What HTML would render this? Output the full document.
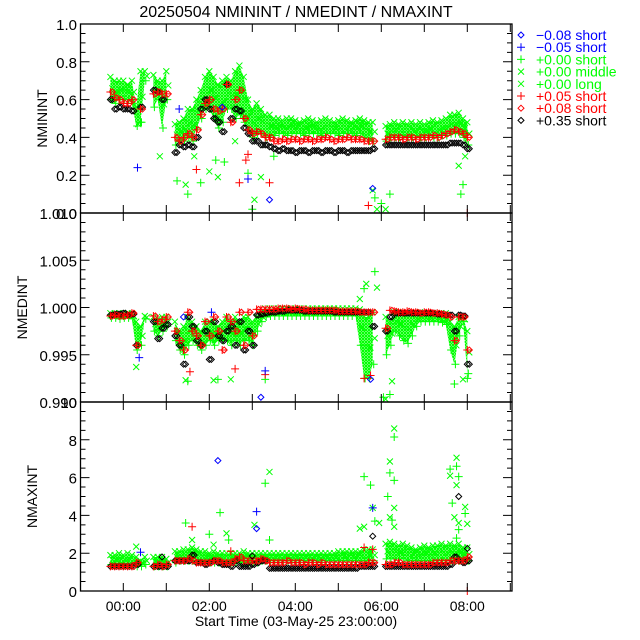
<!DOCTYPE html>
<html><head><meta charset="utf-8"><style>
html,body{margin:0;padding:0;background:#fff;}
svg{display:block;font-family:"Liberation Sans",sans-serif;}
</style></head><body>
<svg id="chart" width="640" height="640" viewBox="0 0 640 640" xmlns="http://www.w3.org/2000/svg">
<defs>
<pattern id="gx" width="3" height="3" patternUnits="userSpaceOnUse">
<path d="M0,0L3,3M3,0L0,3" stroke="#00ff00" stroke-width="1.2"/>
</pattern>
</defs>
<text x="296" y="17" font-size="16" text-anchor="middle">20250504 NMININT / NMEDINT / NMAXINT</text>
<text x="296" y="626" font-size="14" text-anchor="middle">Start Time (03-May-25 23:00:00)</text>
<g id="plots"></g>
<g id="legend"></g>
</svg>
<script>
// ---- data ----
const times = [-0.3,-0.2,-0.1,0,0.1,0.2,0.3,0.4,0.5,0.6,0.7,0.8,0.9,1.0,1.1,1.2,1.3,1.4,1.5,1.6,1.7,1.8,1.9,2.0,2.1,2.2,2.3,2.4,2.5,2.6,2.7,2.8,2.9,3.0,3.1,3.2,3.3,3.4,3.5,3.6,3.7,3.8,3.9,4.0,4.1,4.2,4.3,4.4,4.5,4.6,4.7,4.8,4.9,5.0,5.1,5.2,5.3,5.4,5.5,5.6,5.7,5.8,5.9,6.0,6.1,6.2,6.3,6.4,6.5,6.6,6.7,6.8,6.9,7.0,7.1,7.2,7.3,7.4,7.5,7.6,7.7,7.8,7.9,8.0];
const xTickHours = [-1,0,1,2,3,4,5,6,7,8,9];
const xTickLabels = ["00:00","02:00","04:00","06:00","08:00"];
const xTickLabelHours = [0,2,4,6,8];

// NMININT
const minGHi = [.72,.70,.70,.70,.68,.70,.56,.75,.75,null,.73,.70,.70,.75,null,.47,.48,.50,.55,.55,.60,.65,.72,.75,.72,.68,.70,.72,.70,.75,.78,.72,.60,.55,.58,.55,.52,.52,.50,.50,.49,.50,.50,.49,.48,.49,.50,.49,.48,.49,.50,.49,.48,.49,.50,.49,.48,.49,.50,.49,.48,.48,null,null,.46,.47,.48,.47,.48,.47,.48,.47,.48,.47,.48,.49,.48,.49,.50,.52,.52,.53,.50,.48];
const minGLo = [.60,.58,.60,.60,.60,.58,.46,.48,.70,null,.56,.60,.45,.60,null,.36,.38,.38,.40,.38,.45,.50,.55,.55,.50,.45,.48,.55,.55,.50,.52,.48,.44,.40,.42,.42,.40,.40,.41,.42,.42,.41,.42,.42,.42,.41,.42,.42,.42,.41,.42,.42,.42,.41,.42,.42,.42,.41,.42,.40,.38,.38,null,null,.38,.40,.40,.40,.41,.40,.40,.41,.40,.40,.41,.40,.40,.41,.41,.42,.42,.42,.40,.36];
const minRed = [.64,.61,.60,.58,.58,.60,null,.55,null,null,.63,.64,.63,.63,null,.40,.38,.40,.42,.40,.44,.52,.58,.60,.55,.54,.55,.68,.48,.60,.65,.50,.44,.42,.43,.42,.40,.40,.38,.38,.39,.38,.39,.39,.38,.39,.39,.38,.39,.39,.40,.39,.38,.39,.39,.40,.39,.39,.39,.38,.38,.38,null,null,.39,.40,.40,.40,.39,.40,.40,.39,.40,.40,.40,.41,.40,.41,.42,.43,.44,.43,.42,.40];
const minBlack = [.60,.55,.56,.55,.55,.54,null,.56,null,null,.65,.64,.60,null,null,.32,.36,.35,.36,.35,.40,.55,.60,.55,.50,.48,.43,.68,.50,.55,.54,.45,.42,.38,.38,.36,.36,.35,.34,.33,.34,.33,.33,.32,.33,.33,.32,.33,.33,.32,.33,.33,.32,.33,.33,.32,.33,.33,.33,.33,.33,.34,null,null,.36,.36,.36,.36,.36,.36,.36,.36,.36,.36,.36,.36,.36,.36,.36,.37,.37,.37,.36,.34];
const minGOutT = [0.35,0.4,0.85,1.25,1.45,1.5,1.65,1.8,2.0,2.15,2.2,2.35,2.6,2.9,3.05,3.0,3.2,3.5,5.8,5.85,5.9,6.0,6.1,6.2,7.8,7.9,7.95,7.85];
const minGOutV = [.47,.48,.30,.17,.15,.10,.30,.16,.22,.28,.19,.27,.38,.21,.07,.02,.19,.30,.12,.08,.02,.05,.02,.10,.25,.15,.30,.10];
const minROutT = [1.7,2.7,2.85,2.9,3.4,5.7,8.0];
const minROutV = [.23,.16,.28,.31,.16,.04,0.0];
const minBOutT = [0.33,3.4,2.9,5.8,1.3,2.3];
const minBOutV = [.24,.07,.18,.13,.55,.56];

// NMEDINT
const medGHi = [.9994,.9994,.9994,.9994,.9994,.9994,.9985,.9980,.9991,null,.9990,.9988,.9990,.9990,null,.9985,.9975,.9980,.9990,.9985,.9980,.9975,.9985,.9985,.9985,.9980,.9985,.9990,.9985,.9990,.9985,.9990,.9990,.9985,.9990,.9995,.9999,.9999,.9999,.9999,.9999,.9999,.9999,.9999,.9999,.9999,.9999,.9999,.9999,.9999,.9999,.9999,.9999,.9999,.9999,.9999,.9999,.9999,.9998,.9990,.9990,.9995,null,null,.9990,.9985,.9995,.9995,.9993,.9993,.9993,.9995,.9995,.9994,.9994,.9994,.9994,.9994,.9994,.9985,.9980,.9990,.9990,.9975];
const medGLo = [.9989,.9989,.9988,.9989,.9989,.9988,.9955,.9960,.9988,null,.9975,.9970,.9975,.9980,null,.9965,.9955,.9950,.9960,.9965,.9960,.9955,.9960,.9965,.9960,.9965,.9965,.9965,.9960,.9965,.9960,.9965,.9965,.9960,.9975,.9985,.9990,.9991,.9991,.9991,.9991,.9991,.9991,.9991,.9991,.9991,.9991,.9991,.9991,.9991,.9991,.9991,.9991,.9991,.9991,.9991,.9991,.9991,.9960,.9925,.9925,.9940,null,null,.9950,.9960,.9975,.9970,.9965,.9962,.9970,.9980,.9985,.9985,.9985,.9985,.9985,.9984,.9982,.9955,.9940,.9970,.9985,.9930];
const medRed = [.9991,.9992,.9991,.9991,.9992,.9994,.9960,null,null,null,.9991,.9985,.9987,.9990,null,.9975,.9965,.9955,.9995,.9975,.9970,.9960,.9985,.9970,.9990,.9975,.9955,.9990,.9985,.9975,.9995,.9960,.9995,.9970,.9998,.9998,.9998,.9998,.9998,.9999,.9999,.9999,.9998,.9999,.9998,.9998,.9997,.9997,.9997,.9997,.9997,.9997,.9997,.9996,.9996,.9996,.9996,.9996,.9995,.9995,.9995,.9995,null,null,.9978,.9997,.9996,.9995,.9995,.9996,.9995,.9995,.9994,.9995,.9995,.9994,.9994,.9993,.9992,.9990,.9965,.9990,.9990,.9955];
const medBlack = [.9992,.9993,.9993,.9994,.9992,.9993,.9960,null,null,null,.9985,.9967,.9978,.9982,null,.9970,.9960,.9940,.9990,.9980,.9965,.9960,.9975,.9945,.9985,.9970,.9965,.9975,.9980,.9960,.9985,.9955,.9975,.9960,.9992,.9993,.9994,.9995,.9995,.9996,.9996,.9997,.9997,.9997,.9997,.9996,.9996,.9996,.9996,.9996,.9996,.9996,.9995,.9995,.9995,.9995,.9995,.9995,.9995,.9995,.9995,.9980,null,null,.9975,.9990,.9994,.9994,.9994,.9994,.9994,.9994,.9994,.9994,.9994,.9994,.9993,.9993,.9992,.9992,.9975,.9992,.9991,.9940];
const medGOutT = [0.3,0.35,1.45,1.5,2.1,2.2,2.5,3.3,5.5,5.6,5.65,5.85,5.9,6.05,6.1,6.2,6.25,7.7,7.9,8.0];
const medGOutV = [.9937,.9960,.9923,.9922,.9923,.9924,.9924,.9924,1.0009,1.0020,1.0025,1.0038,1.0021,.9905,.9903,.9908,.9922,.9919,.9924,.9925];
const medROutT = [2.6,1.55,3.3,5.6,5.75];
const medROutV = [.9935,.9932,.9929,.9925,.9928];
const medBOutT = [0.37,3.2,3.3,1.4,2.05,5.75];
const medBOutV = [.9947,.9905,.9933,.9990,.9995,.9924];

// NMAXINT
const maxGHi = [1.9,1.9,2.0,1.9,2.0,1.9,1.8,1.6,1.8,null,1.8,1.8,1.8,1.7,null,2.1,2.1,2.2,2.2,2.3,2.2,2.1,2.1,2.0,2.1,2.0,2.0,2.0,2.0,2.0,2.0,2.1,2.0,2.0,2.0,2.0,2.0,2.0,2.0,2.0,2.0,2.0,2.0,2.0,2.0,2.0,2.0,2.0,2.0,2.0,2.0,2.0,2.0,2.1,2.1,2.1,2.1,2.1,2.1,2.2,2.2,2.2,null,null,2.5,2.6,2.5,2.4,2.5,2.4,2.3,2.2,2.3,2.4,2.3,2.4,2.4,2.5,2.4,2.5,2.4,2.5,2.3,2.3];
const maxGLo = [1.4,1.4,1.4,1.4,1.4,1.4,1.3,1.3,1.4,null,1.3,1.3,1.3,1.3,null,1.5,1.6,1.6,1.6,1.6,1.6,1.6,1.5,1.5,1.5,1.5,1.5,1.5,1.5,1.5,1.5,1.5,1.5,1.5,1.5,1.6,1.6,1.6,1.6,1.6,1.6,1.6,1.6,1.6,1.6,1.6,1.6,1.6,1.6,1.6,1.6,1.6,1.6,1.6,1.6,1.6,1.6,1.6,1.6,1.6,1.6,1.6,null,null,1.7,1.7,1.7,1.7,1.7,1.6,1.6,1.6,1.6,1.6,1.6,1.6,1.6,1.6,1.6,1.6,1.6,1.6,1.6,1.6];
const maxRed = [1.3,1.3,1.3,1.3,1.3,1.3,1.5,null,null,null,1.3,1.4,1.3,1.4,null,1.6,1.6,1.6,1.7,1.6,1.5,1.5,1.5,1.5,1.6,1.6,1.5,1.5,1.5,1.7,1.8,1.6,1.6,1.6,1.6,1.7,1.6,1.5,1.5,1.5,1.5,1.6,1.5,1.5,1.5,1.4,1.5,1.5,1.4,1.5,1.4,1.4,1.4,1.4,1.4,1.4,1.4,1.4,1.4,1.4,1.5,1.5,null,null,1.4,1.4,1.5,1.5,1.4,1.4,1.4,1.4,1.4,1.4,1.4,1.5,1.5,1.5,1.5,1.6,1.6,1.6,1.6,1.8];
const maxBlack = [1.3,1.3,1.3,1.3,1.3,1.3,1.4,null,null,null,1.3,1.3,1.3,1.3,null,1.6,1.6,1.6,1.6,1.9,1.5,1.5,1.4,1.5,1.6,1.5,1.4,1.4,1.3,1.6,1.3,1.3,1.3,1.4,1.5,1.6,1.6,1.2,1.2,1.2,1.2,1.2,1.2,1.2,1.2,1.2,1.2,1.2,1.2,1.2,1.2,1.2,1.2,1.2,1.2,1.2,1.2,1.2,1.3,1.3,1.3,1.3,null,null,1.3,1.3,1.3,1.3,1.3,1.3,1.3,1.3,1.3,1.3,1.3,1.3,1.3,1.3,1.3,1.4,1.8,1.6,1.5,1.6];
const maxGOutT = [0.3,1.45,1.6,2.0,2.1,2.25,2.4,2.45,3.05,3.3,3.4,3.4,5.5,5.6,5.6,5.75,5.8,5.85,5.95,6.15,6.2,6.2,6.2,6.25,6.3,6.3,6.3,6.3,6.3,7.6,7.6,7.65,7.7,7.75,7.75,7.75,7.75,7.8,7.8,7.8,7.95,7.95,8.0];
const maxGOutV = [2.35,3.6,2.7,3.0,2.45,4.15,3.05,2.7,3.5,5.7,6.3,2.7,3.3,6.05,3.4,5.6,4.4,3.7,3.6,5.0,6.85,6.25,3.9,3.75,8.6,8.15,4.4,5.85,3.4,6.45,6.1,4.65,3.9,2.8,7.05,6.6,5.6,6.05,3.6,3.25,4.45,4.1,3.55];
const maxBOutT = [0.4,2.2,3.1,3.1,5.8];
const maxBOutV = [2.05,6.9,4.2,3.3,4.4];
const maxROutT = [1.6,2.5,5.6,5.8,8.0];
const maxROutV = [3.4,2.1,2.3,2.2,0];
const maxKOutT = [0.9,3.0,5.8,7.8,8.0];
const maxKOutV = [1.8,1.85,2.9,5.0,2.25];

const panelNames = ["NMININT","NMEDINT","NMAXINT"];
const yTicks0 = [0,0.2,0.4,0.6,0.8,1.0];
const yTickLabels0 = ["0.0","0.2","0.4","0.6","0.8","1.0"];
const yTicks1 = [0.990,0.995,1.000,1.005,1.010];
const yTickLabels1 = ["0.990","0.995","1.000","1.005","1.010"];
const yTicks2 = [0,2,4,6,8,10];
const yTickLabels2 = ["0","2","4","6","8","10"];
const legendLabels = ["\u22120.08 short","\u22120.05 short","+0.00 short","+0.00 middle","+0.00 long","+0.05 short","+0.08 short","+0.35 short"];

// ---- drawing ----
const NS = "http://www.w3.org/2000/svg";
const L = 80.5, R = 512, HPX = 43;
const xs = h => 123.3 + h * HPX;
const plots = document.getElementById("plots");
const GREEN = "#00ff00", RED = "#ff0000", BLUE = "#0000ff", BLACK = "#000000";

function mk(tag, attrs, parent) {
  const e = document.createElementNS(NS, tag);
  for (const k in attrs) e.setAttribute(k, attrs[k]);
  parent.appendChild(e);
  return e;
}
function marker(g, type, x, y, color) {
  let d;
  if (type === "x") d = `M${x-3},${y-3}L${x+3},${y+3}M${x+3},${y-3}L${x-3},${y+3}`;
  else if (type === "+") d = `M${x-4},${y}L${x+4},${y}M${x},${y-4}L${x},${y+4}`;
  else d = `M${x},${y-3}L${x+3},${y}L${x},${y+3}L${x-3},${y}Z`;
  const p = mk("path", {d: d, stroke: color, "stroke-width": 1, fill: "none"}, g);
  
  
  return p;
}

function panel(idx, top, bot, vmin, vmax, ticks, tickLabels, minorStep, gHi, gLo, red, black, gOT, gOV, rOT, rOV, bOT, bOV, kOT, kOV, titleX) {
  const ys = v => bot - (v - vmin) / (vmax - vmin) * (bot - top);
  const g = mk("g", {}, plots);
  
  
  const clipId = "clip" + idx;
  const cp = mk("clipPath", {id: clipId}, g);
  mk("rect", {x: L, y: top - 4, width: R - L, height: bot - top + 8}, cp);
  const dg = mk("g", {"clip-path": `url(#${clipId})`}, g);
  
  
  let seg = [];
  const flush = () => {
    if (seg.length > 1) {
      const up = seg.map(i => `${xs(times[i])},${ys(gHi[i])}`);
      const dn = seg.slice().reverse().map(i => `${xs(times[i])},${ys(gLo[i])}`);
      const poly = mk("polygon", {points: up.concat(dn).join(" "), fill: "url(#gx)"}, dg);
      
      
    }
    seg = [];
  };
  for (let i = 0; i < times.length; i++) {
    if (gHi[i] == null) flush(); else seg.push(i);
  }
  flush();
  for (let i = 0; i < times.length; i++) {
    if (gHi[i] != null) { marker(dg, "x", xs(times[i]), ys(gHi[i]), GREEN); marker(dg, "x", xs(times[i]) + 2, ys((gHi[i]+gLo[i])/2), GREEN); marker(dg, "+", xs(times[i]) + 1, ys(gLo[i]), GREEN); }
  }
  for (let i = 0; i < gOT.length; i++) marker(dg, i % 2 ? "+" : "x", xs(gOT[i]), ys(gOV[i]), GREEN);
  for (let i = 0; i < times.length; i++) {
    if (black[i] != null) { marker(dg, "d", xs(times[i]), ys(black[i]), BLACK); marker(dg, "d", xs(times[i]) + 2, ys(black[i]), BLACK); }
  }
  for (let i = 0; i < times.length; i++) {
    if (red[i] != null) { marker(dg, "+", xs(times[i]), ys(red[i]), RED); marker(dg, "d", xs(times[i]) + 2, ys(red[i]), RED); }
  }
  for (let i = 0; i < rOT.length; i++) marker(dg, "+", xs(rOT[i]), ys(rOV[i]), RED);
  for (let i = 0; i < bOT.length; i++) marker(dg, i % 2 ? "d" : "+", xs(bOT[i]), ys(bOV[i]), BLUE);
  for (let i = 0; i < kOT.length; i++) marker(dg, "d", xs(kOT[i]), ys(kOV[i]), BLACK);
  const fr = mk("rect", {x: L, y: top, width: R - L, height: bot - top, fill: "none", stroke: "#000", "stroke-width": 1.3}, g);
  
  
  for (let v = vmin; v <= vmax + 1e-9; v += minorStep) {
    const y = ys(v);
    const isMaj = ticks.some(t => Math.abs(t - v) < minorStep / 10);
    const len = isMaj ? 9 : 5;
    mk("path", {d: `M${L},${y}h${len}M${R},${y}h${-len}`, stroke: "#000", "stroke-width": 1}, g);
  }
  for (let i = 0; i < ticks.length; i++) {
    const t = mk("text", {x: 77, y: ys(ticks[i]) + 6, "font-size": 15, "text-anchor": "end"}, g);
    t.textContent = tickLabels[i];
    
    
  }
  for (const h of xTickHours) {
    const x = xs(h);
    if (x <= L || x >= R) continue;
    mk("path", {d: `M${x},${bot}v-8M${x},${top}v8`, stroke: "#000", "stroke-width": 1}, g);
  }
  const yt = mk("text", {x: titleX, y: (top + bot) / 2, "font-size": 14, "text-anchor": "middle", transform: `rotate(-90 ${titleX} ${(top + bot) / 2})`}, g);
  yt.textContent = panelNames[idx];
  
  
}

panel(0, 24, 213, 0, 1.0, yTicks0, yTickLabels0, 0.05, minGHi, minGLo, minRed, minBlack, minGOutT, minGOutV, minROutT, minROutV, minBOutT, minBOutV, [], [], 47);
panel(1, 213, 402, 0.990, 1.010, yTicks1, yTickLabels1, 0.001, medGHi, medGLo, medRed, medBlack, medGOutT, medGOutV, medROutT, medROutV, medBOutT, medBOutV, [], [], 27);
panel(2, 402, 591, 0, 10, yTicks2, yTickLabels2, 0.5, maxGHi, maxGLo, maxRed, maxBlack, maxGOutT, maxGOutV, maxROutT, maxROutV, maxBOutT, maxBOutV, maxKOutT, maxKOutV, 37);

for (let i = 0; i < xTickLabels.length; i++) {
  const t = mk("text", {x: xs(xTickLabelHours[i]), y: 611, "font-size": 14, "text-anchor": "middle"}, plots);
  t.textContent = xTickLabels[i];
  
  
}

const lg = document.getElementById("legend");
const legColors = [BLUE, BLUE, GREEN, GREEN, GREEN, RED, RED, BLACK];
const legMarks = ["d", "+", "+", "x", "x", "+", "d", "d"];
for (let i = 0; i < legendLabels.length; i++) {
  const y = 35 + i * 12.2;
  const eg = mk("g", {}, lg);
  
  
  marker(eg, legMarks[i], 521, y, legColors[i]);
  const t = mk("text", {x: 536, y: y + 5, "font-size": 14, fill: legColors[i]}, eg);
  t.textContent = legendLabels[i];
}
</script>
</body></html>
